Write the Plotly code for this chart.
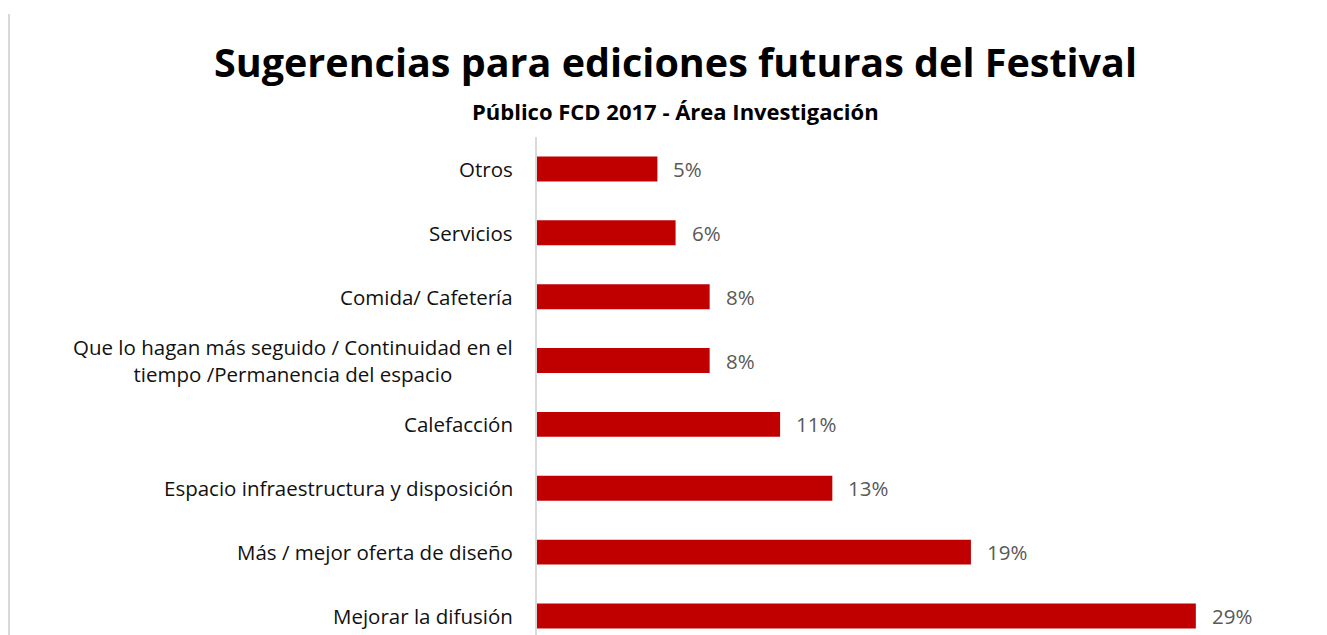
import plotly.graph_objects as go

# Suggestion categories (top to bottom as listed) and share of respondents (%)
categorias = [
    "Otros",
    "Servicios",
    "Comida/ Cafetería",
    "Que lo hagan más seguido / Continuidad en el<br>tiempo /Permanencia del espacio",
    "Calefacción",
    "Espacio infraestructura y disposición",
    "Más / mejor oferta de diseño",
    "Mejorar la difusión",
]
porcentajes = [5.3, 6.1, 7.6, 7.6, 10.7, 13.0, 19.1, 29.0]

titulo = "Sugerencias para ediciones futuras del Festival"
subtitulo = "Público FCD 2017 - Área Investigación"

W, H = 1327, 635
M_L, M_R, M_T, M_B = 537, 63, 137, 0
PW, PH = W - M_L - M_R, H - M_T - M_B

FONT = "Open Sans"
ROJO = "#C00000"
GRIS_LINEA = "#D9D9D9"


def px_x(px):
    return (px - M_L) / PW


def px_y(py):
    return (H - M_B - py) / PH


# Bars listed bottom-up so the first category sits at the top
cats_rev = categorias[::-1]
vals_rev = porcentajes[::-1]

fig = go.Figure(
    go.Bar(
        x=vals_rev,
        y=cats_rev,
        orientation="h",
        marker=dict(color=ROJO, line=dict(width=0)),
        width=0.39,
        hoverinfo="skip",
    )
)

annotations = []

# Category labels, right-aligned against the axis, multi-line text centred
for c in cats_rev:
    annotations.append(dict(
        x=0, xref="paper", y=c, yref="y",
        text=c, showarrow=False, xanchor="right", yanchor="middle",
        xshift=-22, align="center",
        font=dict(family=FONT, size=20.5, color="#111111"),
    ))

# Value labels at the end of each bar
for c, v in zip(cats_rev, vals_rev):
    annotations.append(dict(
        x=v, xref="x", y=c, yref="y",
        text=f"{v:.0f}%", showarrow=False, xanchor="left", yanchor="middle",
        xshift=14,
        font=dict(family=FONT, size=20.5, color="#595959"),
    ))

# Title and subtitle
annotations.append(dict(
    x=px_x(675), xref="paper", y=px_y(62), yref="paper",
    text=f"<b>{titulo}</b>", showarrow=False, xanchor="center", yanchor="middle",
    font=dict(family=FONT, size=39.5, color="#000000"),
))
annotations.append(dict(
    x=px_x(675), xref="paper", y=px_y(111), yref="paper",
    text=f"<b>{subtitulo}</b>", showarrow=False, xanchor="center", yanchor="middle",
    font=dict(family=FONT, size=22, color="#000000"),
))

fig.update_layout(
    width=W, height=H,
    margin=dict(l=M_L, r=M_R, t=M_T, b=M_B, pad=0),
    paper_bgcolor="white", plot_bgcolor="white",
    showlegend=False,
    annotations=annotations,
    xaxis=dict(range=[0, 32], visible=False, fixedrange=True),
    yaxis=dict(
        type="category", categoryorder="array", categoryarray=cats_rev,
        range=[-0.297, 7.5], showticklabels=False, ticks="",
        showgrid=False, zeroline=False,
        showline=True, linecolor=GRIS_LINEA, linewidth=2,
        fixedrange=True,
    ),
    shapes=[dict(
        type="line", xref="paper", yref="paper",
        x0=px_x(9), x1=px_x(9), y0=px_y(635), y1=px_y(14),
        line=dict(color=GRIS_LINEA, width=2),
    )],
)

fig.write_html("out.html", config={"displayModeBar": False})
